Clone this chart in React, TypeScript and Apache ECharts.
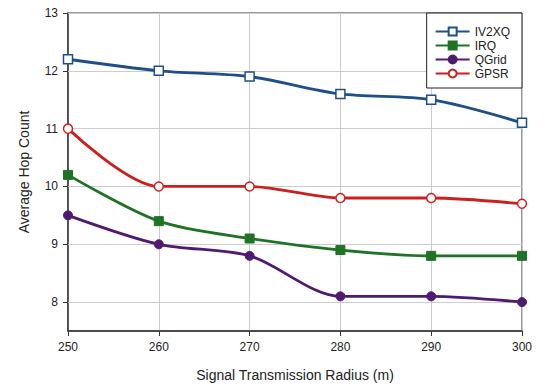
import React, { useEffect, useRef } from "react";
import * as echarts from "echarts";

const radii = [250, 260, 270, 280, 290, 300];
const iv2xq = [12.2, 12.0, 11.9, 11.6, 11.5, 11.1];
const irq = [10.2, 9.4, 9.1, 8.9, 8.8, 8.8];
const qgrid = [9.5, 9.0, 8.8, 8.1, 8.1, 8.0];
const gpsr = [11.0, 10.0, 10.0, 9.8, 9.8, 9.7];
const yTicks = [8, 9, 10, 11, 12, 13];

const font = "Liberation Sans, Arial, sans-serif";

export default function App() {
  const ref = useRef<HTMLDivElement>(null);
  useEffect(() => {
    const chart = echarts.init(ref.current!, null, { renderer: "svg" });
    const mk = (name: string, data: number[], color: string, symbol: string, hollow: boolean) => ({
      name,
      type: "line",
      smooth: 0.3,
      z: 3,
      data: radii.map((r, i) => [r, data[i]]),
      symbol,
      symbolSize: 9,
      showSymbol: true,
      lineStyle: { color, width: 2.8 },
      itemStyle: { color: hollow ? "#ffffff" : color, borderColor: color, borderWidth: hollow ? 1.5 : 1 },
    });
    chart.setOption({
      animation: false,
      grid: { left: 68, right: 28, top: 13, bottom: 58, show: true, borderColor: "#333", borderWidth: 1 },
      legend: {
        right: 28,
        top: 13,
        orient: "vertical",
        backgroundColor: "#fff",
        borderColor: "#222",
        borderWidth: 1,
        padding: [12, 12, 8, 8],
        itemGap: 1,
        itemWidth: 34,
        itemHeight: 10,
        textStyle: { fontFamily: font, fontSize: 12, lineHeight: 13, color: "#222" },
        data: ["IV2XQ", "IRQ", "QGrid", "GPSR"],
        z: 10,
      },
      xAxis: {
        type: "value",
        min: 250,
        max: 300,
        interval: 10,
        name: "Signal Transmission Radius (m)",
        nameLocation: "middle",
        nameGap: 37,
        nameTextStyle: { fontFamily: font, fontSize: 14, color: "#222" },
        axisLine: { lineStyle: { color: "#333", width: 1.5 } },
        axisTick: { show: true, length: 5, lineStyle: { color: "#333" } },
        axisLabel: { fontFamily: font, fontSize: 12, color: "#222", margin: 10 },
        splitLine: { show: true, lineStyle: { color: "#cccccc" } },
      },
      yAxis: {
        type: "value",
        min: 7.5,
        max: 13,
        name: "Average Hop Count",
        nameLocation: "middle",
        nameGap: 37,
        nameTextStyle: { fontFamily: font, fontSize: 14, color: "#222" },
        axisLine: { show: true, lineStyle: { color: "#333", width: 1.5 } },
        axisTick: { show: true, length: 5, customValues: yTicks, lineStyle: { color: "#333" } },
        axisLabel: { fontFamily: font, fontSize: 12, color: "#222", margin: 10, customValues: yTicks },
        splitLine: { show: false },
      },
      series: [
        {
          type: "line",
          data: [],
          silent: true,
          z: 1,
          markLine: {
            silent: true,
            symbol: "none",
            label: { show: false },
            lineStyle: { color: "#cccccc", type: "solid", width: 1 },
            data: yTicks.map((v) => ({ yAxis: v })),
            z: 1,
          },
        },
        mk("IV2XQ", iv2xq, "#1f4f8a", "rect", true),
        mk("IRQ", irq, "#1e7324", "rect", false),
        mk("QGrid", qgrid, "#4f1a70", "circle", false),
        mk("GPSR", gpsr, "#cc1f1f", "circle", true),
      ],
    });
    return () => chart.dispose();
  }, []);
  return <div ref={ref} style={{ position: "absolute", left: 0, top: 0, width: 550, height: 389 }} />;
}
